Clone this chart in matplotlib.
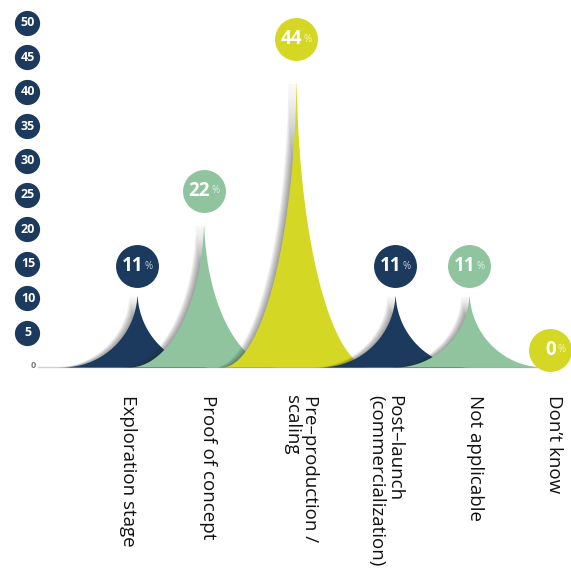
import numpy as np
import matplotlib.pyplot as plt

plt.rcParams['font.family'] = ['Open Sans', 'DejaVu Sans']

# survey results (% of respondents)
stages = ["Exploration stage", "Proof of concept", "Pre\u2013production /\nscaling",
          "Post\u2013launch\n(commercialization)", "Not applicable", "Don\u2019t know"]
shares = [11, 22, 44, 11, 11, 0]
y_ticks = [5, 10, 15, 20, 25, 30, 35, 40, 45, 50]

# layout: peak centres and label centres in axis units, peak colours
peak_x = [0, 0.81, 1.935, 3.14, 4.04, 5.02]
label_x = [-0.11, 0.86, 1.99, 3.02, 4.11, 5.07]
navy, green, lime = "#1b3a5d", "#8fc49f", "#d5d725"
colours = [navy, green, lime, navy, green, lime]

PX_X = 82.2   # pixels per x unit
PX_Y = 6.88   # pixels per percentage point

fig = plt.figure(figsize=(5.71, 5.70), dpi=100)
ax = fig.add_axes([0, 1 - 367 / 570, 1, (367 - 23) / 570])
ax.set_xlim(-137 / PX_X, (571 - 137) / PX_X)
ax.set_ylim(0, 50)
ax.axis("off")

# baseline
ax.plot([-1.2, 4.95], [0, 0], color="#d0d0d0", lw=1, zorder=0, clip_on=False)


def spike(cx, h, half_px=75):
    """Peak with concave quarter-ellipse flanks."""
    w = half_px / PX_X
    xs = np.linspace(cx - w, cx + w, 500)
    d = 1 - np.abs(xs - cx) / w
    ys = h * (1 - np.sqrt(np.clip(1 - d ** 2, 0, 1)))
    return xs, ys


for i, (cx, v, c) in enumerate(zip(peak_x, shares, colours)):
    z = 2 + i * 2
    if v > 0:
        xs, ys = spike(cx, v)
        # soft shadow cast to the left
        for k in range(1, 11):
            ax.fill_between(xs - k * 0.8 / PX_X, ys, 0,
                            color="#303030", alpha=0.055, lw=0, zorder=z)
        ax.fill_between(xs, ys, 0, color=c, lw=0, zorder=z + 1)

    # value badge
    by = v + 25 / PX_Y if v > 0 else 17 / PX_Y
    ax.scatter([cx], [by], s=955, color=c, zorder=20, clip_on=False, lw=0)
    ax.annotate(str(v), (cx, by), xytext=(4.5, 0), textcoords="offset points",
                ha="right", va="center", color="white", fontsize=13.5,
                fontweight="bold", zorder=21, annotation_clip=False)
    ax.annotate("%", (cx, by), xytext=(5.5, 0), textcoords="offset points",
                ha="left", va="center", color="white", alpha=0.75, fontsize=7,
                zorder=21, annotation_clip=False)

    # category label, reading downwards
    ax.text(label_x[i], -28 / PX_Y, stages[i], rotation=-90, ha="center", va="top",
            multialignment="left", fontsize=13.5, color="#111111",
            linespacing=1.0, clip_on=False)

# y axis drawn as round badges
bx = (27 - 137) / PX_X
ax.scatter([bx] * len(y_ticks), y_ticks, s=330, color=navy, lw=0,
           zorder=20, clip_on=False)
for t in y_ticks:
    ax.text(bx + 1 / PX_X, t, str(t), ha="center", va="center", color="white",
            fontsize=9, fontweight="bold", zorder=21, clip_on=False)
ax.text((33 - 137) / PX_X, 0.2, "0", ha="center", va="center", color="#777777",
        fontsize=6.5, fontweight="bold", clip_on=False)

fig.savefig("out.png", dpi=100)
